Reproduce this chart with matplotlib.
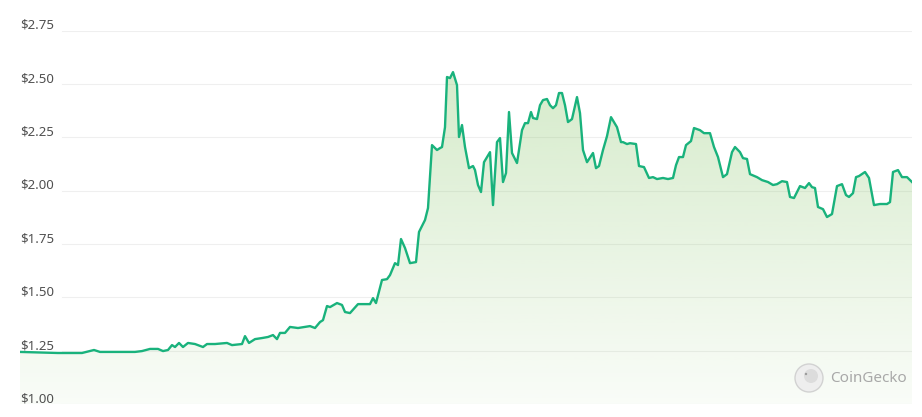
import matplotlib.pyplot as plt
import matplotlib.transforms as mtransforms
from matplotlib.patches import Circle
import numpy as np

# price history (days from start, USD)
days = [0.0, 3.8, 6.2, 7.4, 8.0, 11.5, 12.2, 13.0, 13.8, 14.3, 14.8, 15.2, 15.5,
        15.9, 16.3, 16.8, 17.5, 18.3, 18.7, 19.5, 20.7, 21.2, 22.2, 22.5, 22.9,
        23.5, 24.2, 24.8, 25.3, 25.7, 26.0, 26.5, 27.0, 27.8, 29.0, 29.5, 30.0,
        30.3, 30.7, 31.0, 31.7, 32.2, 32.5, 33.0, 33.8, 35.0, 35.3, 35.6, 36.2,
        36.7, 37.0, 37.5, 37.8, 38.1, 38.5, 39.0, 39.6, 39.9, 40.5, 40.8, 41.2,
        41.7, 42.0, 42.2, 42.5, 42.7, 43.0, 43.3, 43.7, 43.9, 44.2, 44.5, 44.9,
        45.3, 45.5, 45.8, 46.1, 46.4, 46.7, 47.0, 47.3, 47.7, 48.0, 48.3, 48.6,
        48.9, 49.2, 49.7, 50.2, 50.5, 50.8, 51.1, 51.3, 51.7, 52.0, 52.3, 52.7,
        53.0, 53.3, 53.6, 53.9, 54.2, 54.5, 54.8, 55.2, 55.7, 56.0, 56.3, 56.7,
        57.3, 57.6, 57.9, 58.3, 58.7, 59.1, 59.7, 60.1, 60.3, 60.7, 61.0, 61.6,
        61.9, 62.4, 62.9, 63.3, 63.7, 64.3, 64.8, 65.3, 65.6, 65.9, 66.3, 66.6,
        67.1, 67.4, 68.0, 68.4, 69.0, 69.4, 69.8, 70.3, 70.7, 71.2, 71.5, 72.0,
        72.3, 72.7, 73.0, 73.7, 74.2, 74.8, 75.3, 75.7, 76.2, 76.7, 77.0, 77.4,
        78.0, 78.5, 78.9, 79.2, 79.5, 79.8, 80.3, 80.7, 81.2, 81.7, 82.2, 82.6,
        82.9, 83.3, 83.6, 83.9, 84.5, 84.9, 85.4, 86.0, 86.7, 87.0, 87.3, 87.8,
        88.2, 88.7, 89.2]
prices = [1.244, 1.239, 1.239, 1.253, 1.244, 1.244, 1.248, 1.258, 1.258, 1.248,
          1.253, 1.276, 1.267, 1.286, 1.267, 1.286, 1.281, 1.267, 1.281, 1.281,
          1.286, 1.276, 1.281, 1.318, 1.286, 1.304, 1.309, 1.314, 1.323, 1.304,
          1.333, 1.333, 1.361, 1.356, 1.365, 1.356, 1.384, 1.393, 1.459, 1.454,
          1.473, 1.464, 1.431, 1.426, 1.468, 1.468, 1.496, 1.473, 1.581, 1.585,
          1.604, 1.660, 1.651, 1.773, 1.731, 1.660, 1.665, 1.806, 1.862, 1.918,
          2.213, 2.190, 2.199, 2.204, 2.297, 2.532, 2.527, 2.555, 2.494, 2.251,
          2.307, 2.204, 2.105, 2.115, 2.096, 2.026, 1.993, 2.133, 2.157, 2.180,
          1.932, 2.227, 2.246, 2.040, 2.082, 2.368, 2.176, 2.129, 2.283, 2.316,
          2.316, 2.368, 2.340, 2.335, 2.400, 2.424, 2.429, 2.400, 2.386, 2.400,
          2.457, 2.457, 2.400, 2.321, 2.335, 2.438, 2.363, 2.190, 2.133, 2.176,
          2.105, 2.115, 2.190, 2.255, 2.344, 2.297, 2.227, 2.227, 2.218, 2.222,
          2.218, 2.115, 2.110, 2.059, 2.063, 2.054, 2.059, 2.054, 2.059, 2.119,
          2.157, 2.157, 2.213, 2.232, 2.293, 2.283, 2.269, 2.269, 2.204, 2.157,
          2.063, 2.077, 2.180, 2.204, 2.180, 2.152, 2.148, 2.077, 2.063, 2.049,
          2.040, 2.026, 2.030, 2.044, 2.040, 1.970, 1.965, 2.021, 2.012, 2.035,
          2.016, 2.012, 1.923, 1.913, 1.876, 1.890, 2.021, 2.030, 1.979, 1.970,
          1.988, 2.063, 2.068, 2.087, 2.059, 1.932, 1.937, 1.937, 1.946, 2.087,
          2.096, 2.063, 2.063, 2.040]

yticks = [1.00, 1.25, 1.50, 1.75, 2.00, 2.25, 2.50, 2.75]
ytick_labels = ["$1.00", "$1.25", "$1.50", "$1.75", "$2.00", "$2.25", "$2.50", "$2.75"]

line_color = "#19b27c"
W, H = 922, 417

fig = plt.figure(figsize=(W / 100, H / 100), dpi=100)
ax = fig.add_axes([20 / W, 13 / H, 892 / W, 373.5 / H])
ax.set_xlim(days[0], days[-1])
ax.set_ylim(1.0, 2.75)
ax.axis("off")

# faint horizontal grid, starting right of the labels
for v in yticks:
    ax.axhline(v, xmin=0.047, xmax=1.0, color="#efefef", lw=0.8, zorder=0)

# gradient fill under the line
x = np.array(days)
y = np.array(prices)
poly = ax.fill_between(x, y, 1.0, color="none", lw=0)
grad = np.linspace(0.05, 0.36, 256).reshape(-1, 1)
rgba = np.zeros((256, 1, 4))
rgba[..., 0] = 140 / 255
rgba[..., 1] = 200 / 255
rgba[..., 2] = 110 / 255
rgba[..., 3] = grad
img = ax.imshow(rgba, aspect="auto", origin="lower",
                extent=[x[0], x[-1], 1.0, max(prices)], zorder=1)
img.set_clip_path(poly.get_paths()[0], transform=ax.transData)

ax.plot(x, y, color=line_color, lw=1.7, zorder=3, solid_joinstyle="round")

# y labels sit on top of their gridlines
trans = mtransforms.blended_transform_factory(ax.transAxes, ax.transData)
for v, lab in zip(yticks, ytick_labels):
    ax.text(0.0, v + 0.024, lab, transform=trans, ha="left", va="center",
            fontsize=9.5, family="Noto Sans", color="#505050", zorder=4)

# watermark: round logo + name
logo = Circle((8.09, 0.39), 0.14, transform=fig.dpi_scale_trans,
              facecolor="#eeeeee", edgecolor="#d2d2d2", lw=1.0)
fig.patches.append(logo)
head = Circle((8.11, 0.41), 0.07, transform=fig.dpi_scale_trans,
              facecolor="#dcdcdc", edgecolor="none")
fig.patches.append(head)
eye = Circle((8.06, 0.43), 0.012, transform=fig.dpi_scale_trans,
             facecolor="#9a9a9a", edgecolor="none")
fig.patches.append(eye)
fig.text(830 / W, 1 - 379 / H, "CoinGecko", ha="left", va="center",
         fontsize=11, family="Noto Sans", color="#a8a8a8")

fig.savefig("out.png", dpi=100)
